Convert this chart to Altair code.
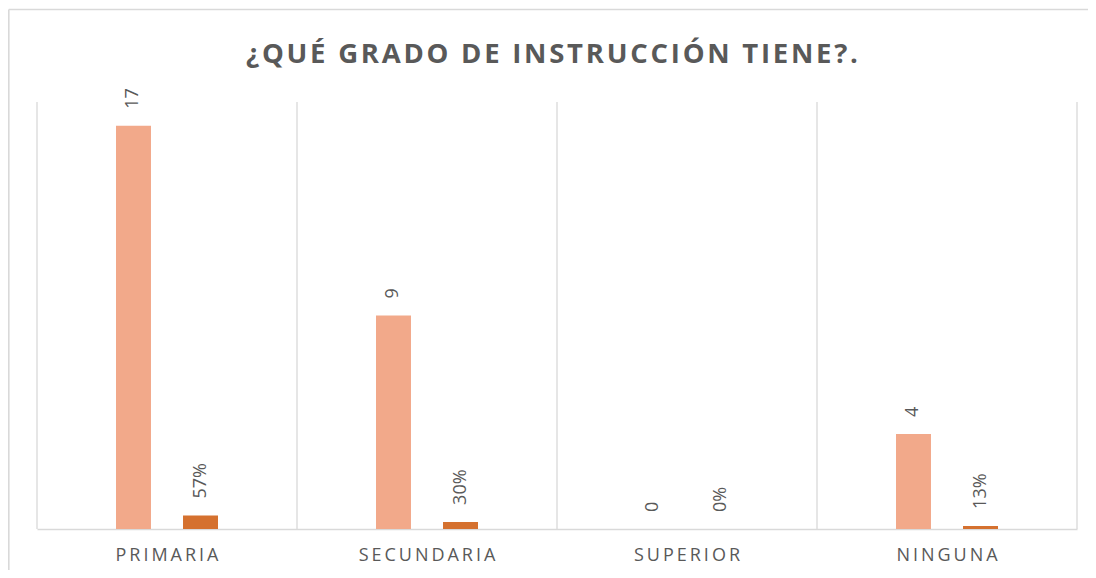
import altair as alt
import pandas as pd

categories = ["PRIMARIA", "SECUNDARIA", "SUPERIOR", "NINGUNA"]
counts = [17, 9, 0, 4]
percents = [0.57, 0.30, 0.00, 0.13]
series = ["Frecuencia", "Porcentaje"]
colors = ["#F2A98A", "#D5712F"]
title_text = "¿QUÉ GRADO DE INSTRUCCIÓN TIENE?."

rows = []
for c, n, p in zip(categories, counts, percents):
    rows.append({"cat": c, "serie": series[0], "value": n, "label": str(n)})
    rows.append({"cat": c, "serie": series[1], "value": p, "label": f"{round(p * 100)}%"})
df = pd.DataFrame(rows)

W, H = 1040, 427
PAD_L, PAD_T = 29, 94

def spaced(s, sep="\u2009"):
    return sep.join(list(s))

label_map = {c: spaced(c) for c in categories}
label_expr = " : ".join([f"datum.value === '{c}' ? '{label_map[c]}'" for c in categories]) + " : datum.value"

xscale = alt.Scale(domain=categories, paddingInner=0, paddingOuter=0)
xaxis = alt.Axis(title=None, labelAngle=0, ticks=False, grid=False,
                 domainColor="#D9D9D9", domainWidth=1.3,
                 labelColor="#595959", labelFont="Open Sans",
                 labelFontSize=18, labelPadding=17,
                 labelExpr=label_expr)

base = alt.Chart(df).encode(
    x=alt.X("cat:N", sort=categories, scale=xscale, axis=xaxis),
    xOffset=alt.XOffset("serie:N", sort=series,
                        scale=alt.Scale(range=[79, 181], paddingInner=0.478, paddingOuter=0)),
    y=alt.Y("value:Q", scale=alt.Scale(domain=[0, 18]), axis=None),
)

bars = base.mark_bar().encode(
    color=alt.Color("serie:N", sort=series,
                    scale=alt.Scale(domain=series, range=colors), legend=None)
)

labels = base.mark_text(angle=270, align="left", baseline="middle", dx=17,
                        font="Open Sans", fontSize=18, color="#595959").encode(
    text="label:N"
)

grid_df = pd.DataFrame({"cat": categories})
grid = alt.Chart(grid_df).mark_rule(color="#D9D9D9", strokeWidth=1.3).encode(
    x=alt.X("cat:N", sort=categories, scale=xscale, bandPosition=0, axis=xaxis),
    y=alt.value(0), y2=alt.value(H),
)
grid_end = alt.Chart(grid_df.tail(1)).mark_rule(color="#D9D9D9", strokeWidth=1.3).encode(
    x=alt.X("cat:N", sort=categories, scale=xscale, bandPosition=1, axis=xaxis),
    y=alt.value(0), y2=alt.value(H),
)

one = pd.DataFrame({"t": [spaced(title_text, "\u200a")]})
border_left = alt.Chart(one).mark_rule(color="#D9D9D9", strokeWidth=1.6).encode(
    x=alt.value(-PAD_L + 0.8), y=alt.value(-PAD_T + 1.5), y2=alt.value(H + 60),
)
border_top = alt.Chart(one).mark_rule(color="#D9D9D9", strokeWidth=1.6).encode(
    x=alt.value(-PAD_L + 0.8), x2=alt.value(W + 40), y=alt.value(-PAD_T + 1.5),
)
title = alt.Chart(one).mark_text(font="Open Sans", fontSize=27.5, fontWeight="bold",
                                 color="#595959", align="center", baseline="alphabetic").encode(
    x=alt.value(W / 2 - 5), y=alt.value(-39), text="t:N",
)

chart = alt.layer(border_left, border_top, grid, grid_end, bars, labels, title).properties(
    width=W, height=H,
    autosize=alt.AutoSizeParams(type="none"),
    padding={"left": PAD_L, "top": PAD_T, "right": 11, "bottom": 41},
).configure_view(stroke=None)

chart.save("out.html", embed_options={"renderer": "svg", "actions": False})
